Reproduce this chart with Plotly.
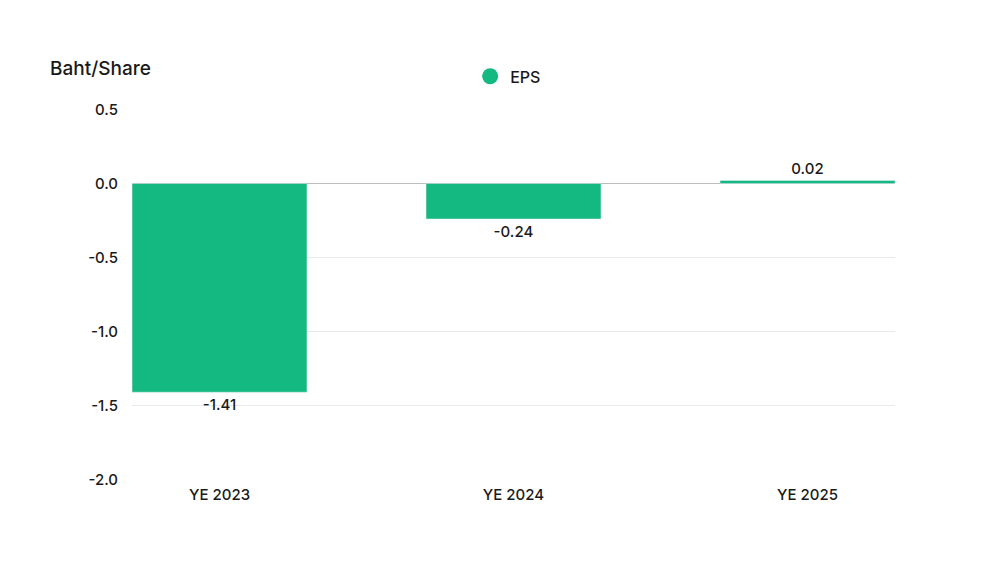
import plotly.graph_objects as go

categories = ["YE 2023", "YE 2024", "YE 2025"]
eps_values = [-1.41, -0.24, 0.02]
eps_labels = ["-1.41", "-0.24", "0.02"]
y_ticks = [0.5, 0.0, -0.5, -1.0, -1.5, -2.0]
y_tick_labels = ["0.5", "0.0", "-0.5", "-1.0", "-1.5", "-2.0"]

color = "#14b981"
font_family = "Inter, Lato, sans-serif"
text_color = "#1a1a1a"

fig = go.Figure()
fig.add_trace(go.Bar(
    x=categories, y=eps_values, text=eps_labels, textposition="outside",
    textfont=dict(size=15, color=text_color, weight=500), marker_color=color, width=0.595,
    showlegend=False, cliponaxis=False, name="EPS",
))
fig.add_trace(go.Scatter(
    x=[None], y=[None], mode="markers", name="EPS",
    marker=dict(symbol="circle", size=16, color=color), showlegend=True,
))
fig.update_layout(
    width=1000, height=562,
    paper_bgcolor="white", plot_bgcolor="white",
    margin=dict(l=124, r=113, t=101, b=90, autoexpand=False),
    font=dict(family=font_family, size=15, color=text_color, weight=500),
    legend=dict(orientation="h", x=0.493, xanchor="center", y=1.088, yanchor="middle",
                font=dict(size=16, weight=500), itemsizing="trace", itemwidth=30),
    xaxis=dict(range=[-0.2976, 2.2976], showgrid=False, showline=False, ticks="",
               tickfont=dict(size=15, weight=500), ticklabelstandoff=4),
    yaxis=dict(range=[-2.003, 0.503], tickvals=y_ticks, ticktext=y_tick_labels,
               showgrid=True, gridcolor="#e9e9e9", gridwidth=1,
               zeroline=True, zerolinecolor="#bdbdbd", zerolinewidth=1,
               showline=False, ticks="", tickfont=dict(size=15, weight=500), ticklabelstandoff=13),
    bargap=0.4,
    annotations=[dict(text="Baht/Share", xref="paper", yref="paper", x=-0.110, y=1.11,
                      xanchor="left", yanchor="middle", showarrow=False,
                      font=dict(size=19, color=text_color, weight=500))],
)
fig.write_html("out.html")
